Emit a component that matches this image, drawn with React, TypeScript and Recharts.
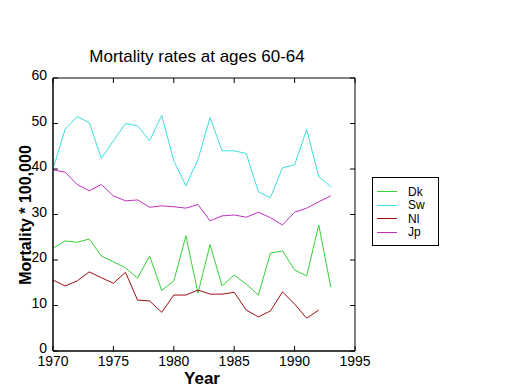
import React from "react";
import { LineChart, Line, XAxis, YAxis, ReferenceArea } from "recharts";

const years = [
  1970, 1971, 1972, 1973, 1974, 1975, 1976, 1977, 1978, 1979, 1980, 1981,
  1982, 1983, 1984, 1985, 1986, 1987, 1988, 1989, 1990, 1991, 1992, 1993,
];
const dk = [
  22.6, 24.2, 23.9, 24.6, 20.9, 19.6, 18.3, 16.0, 20.9, 13.3, 15.4, 25.3,
  12.7, 23.4, 14.3, 16.7, 14.7, 12.3, 21.5, 22.0, 17.8, 16.5, 27.7, 14.0,
];
const sw = [
  40.0, 48.7, 51.5, 50.2, 42.3, 46.2, 50.0, 49.5, 46.2, 51.8, 41.8, 36.3,
  42.1, 51.3, 44.0, 44.0, 43.4, 35.0, 33.7, 40.3, 40.9, 48.7, 38.3, 36.1,
];
const nl = [
  15.6, 14.3, 15.4, 17.4, 16.1, 14.9, 17.3, 11.2, 11.0, 8.5, 12.3, 12.3,
  13.4, 12.5, 12.5, 12.9, 9.0, 7.5, 8.8, 13.0, 10.3, 7.2, 9.0, null,
];
const jp = [
  39.8, 39.3, 36.6, 35.2, 36.6, 34.1, 33.0, 33.2, 31.6, 31.9, 31.7, 31.4,
  32.2, 28.6, 29.7, 29.9, 29.4, 30.5, 29.3, 27.7, 30.5, 31.4, 32.8, 34.1,
];
const xTicks = [1970, 1975, 1980, 1985, 1990, 1995];
const yTicks = [0, 10, 20, 30, 40, 50, 60];

const series = [
  { key: "Dk", color: "#33d133" },
  { key: "Sw", color: "#3fdede" },
  { key: "Nl", color: "#9e1010" },
  { key: "Jp", color: "#c030c0" },
];

const data = years.map((year, i) => ({
  year,
  Dk: dk[i],
  Sw: sw[i],
  Nl: nl[i],
  Jp: jp[i],
}));

const W = 520;
const H = 390;
const PLOT_LEFT = 53;
const PLOT_RIGHT = 355;
const PLOT_TOP = 78;
const PLOT_BOTTOM = 351;
const FONT = "'Liberation Sans', Arial, sans-serif";

function XTick(props: any) {
  const { x, y, payload } = props;
  return (
    <g>
      <line x1={x} x2={x} y1={y} y2={y - 5} stroke="#000" />
      <line x1={x} x2={x} y1={PLOT_TOP} y2={PLOT_TOP + 5} stroke="#000" />
      <text x={x} y={y + 15} textAnchor="middle" fontSize={14} fontFamily={FONT} fill="#000">
        {payload.value}
      </text>
    </g>
  );
}

function YTick(props: any) {
  const { x, y, payload } = props;
  return (
    <g>
      <line x1={x} x2={x + 5} y1={y} y2={y} stroke="#000" />
      <line x1={PLOT_RIGHT - 5} x2={PLOT_RIGHT} y1={y} y2={y} stroke="#000" />
      <text x={x - 6} y={y + 2} textAnchor="end" fontSize={14} fontFamily={FONT} fill="#000">
        {payload.value}
      </text>
    </g>
  );
}

function LegendBox() {
  return (
    <div
      style={{
        position: "absolute",
        left: 372,
        top: 177,
        width: 67,
        height: 69,
        border: "1px solid #000",
        background: "#fff",
        boxSizing: "border-box",
        paddingTop: 7,
      }}
    >
      {series.map((s) => (
        <div key={s.key} style={{ display: "flex", alignItems: "center", height: 13.5 }}>
          <div style={{ marginLeft: 4, width: 20, height: 1, background: s.color }} />
          <span style={{ marginLeft: 11, fontSize: 12, fontFamily: FONT, color: "#000" }}>{s.key}</span>
        </div>
      ))}
    </div>
  );
}

export default function App() {
  return (
    <div style={{ position: "absolute", left: 0, top: 0, width: W, height: H, background: "#fff" }}>
      <div
        style={{
          position: "absolute",
          left: 197 - 150,
          width: 300,
          top: 47,
          textAlign: "center",
          fontFamily: FONT,
          fontSize: 17,
          color: "#000",
        }}
      >
        Mortality rates at ages 60-64
      </div>
      <div
        style={{
          position: "absolute",
          left: 26 - 100,
          top: 215 - 10,
          width: 200,
          height: 20,
          lineHeight: "20px",
          textAlign: "center",
          transform: "rotate(-90deg)",
          fontFamily: FONT,
          fontSize: 16,
          fontWeight: "bold",
          color: "#000",
        }}
      >
        Mortality * 100,000
      </div>
      <div
        style={{
          position: "absolute",
          left: 202 - 50,
          width: 100,
          top: 369,
          textAlign: "center",
          fontFamily: FONT,
          fontSize: 17,
          fontWeight: "bold",
          color: "#000",
        }}
      >
        Year
      </div>
      <LineChart
        width={W}
        height={H}
        data={data}
        margin={{ top: PLOT_TOP, right: W - PLOT_RIGHT, left: PLOT_LEFT - 30, bottom: H - PLOT_BOTTOM - 30 }}
      >
        <XAxis
          dataKey="year"
          type="number"
          domain={[1970, 1995]}
          ticks={xTicks}
          height={30}
          tickSize={0}
          tickMargin={0}
          tickLine={false}
          axisLine={{ stroke: "#000" }}
          tick={<XTick />}
          interval={0}
        />
        <YAxis
          type="number"
          domain={[0, 60]}
          ticks={yTicks}
          width={30}
          tickSize={0}
          tickMargin={0}
          tickLine={false}
          axisLine={{ stroke: "#000" }}
          tick={<YTick />}
          interval={0}
        />
        <ReferenceArea x1={1970} x2={1995} y1={0} y2={60} stroke="#000" fill="none" fillOpacity={0} strokeOpacity={1} />
        {series.map((s) => (
          <Line
            key={s.key}
            dataKey={s.key}
            stroke={s.color}
            strokeWidth={1}
            dot={false}
            activeDot={false}
            isAnimationActive={false}
            connectNulls={false}
          />
        ))}
      </LineChart>
      <LegendBox />
    </div>
  );
}
